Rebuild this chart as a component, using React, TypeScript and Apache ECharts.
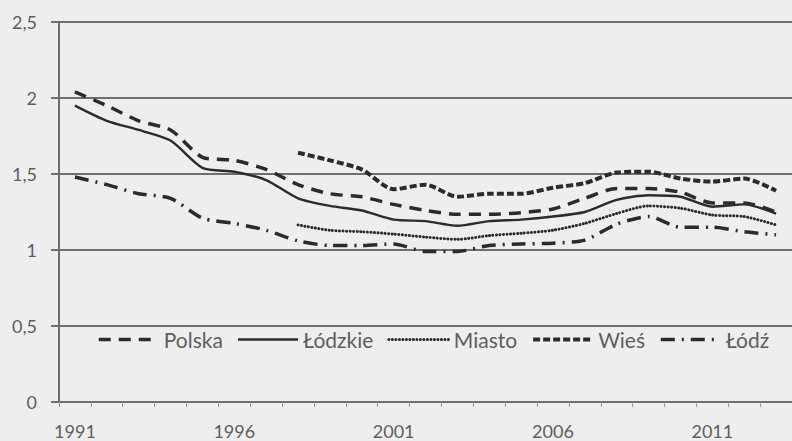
import React, { useEffect, useRef } from "react";
import * as echarts from "echarts";

const years = [
  "1991", "1992", "1993", "1994", "1995", "1996", "1997", "1998", "1999", "2000",
  "2001", "2002", "2003", "2004", "2005", "2006", "2007", "2008", "2009", "2010",
  "2011", "2012", "2013",
];

const polska = [2.04, 1.95, 1.85, 1.79, 1.61, 1.59, 1.53, 1.43, 1.37, 1.35, 1.3, 1.26, 1.235, 1.235, 1.245, 1.27, 1.34, 1.405, 1.405, 1.38, 1.31, 1.31, 1.25];
const lodzkie = [1.95, 1.85, 1.79, 1.72, 1.54, 1.515, 1.46, 1.34, 1.29, 1.26, 1.2, 1.19, 1.16, 1.19, 1.2, 1.22, 1.25, 1.33, 1.36, 1.35, 1.285, 1.3, 1.24];
const miasto = [null, null, null, null, null, null, null, 1.165, 1.13, 1.12, 1.105, 1.085, 1.07, 1.095, 1.11, 1.13, 1.175, 1.24, 1.29, 1.275, 1.23, 1.22, 1.165];
const wies = [null, null, null, null, null, null, null, 1.64, 1.59, 1.53, 1.4, 1.43, 1.35, 1.37, 1.37, 1.41, 1.44, 1.51, 1.515, 1.47, 1.45, 1.47, 1.39];
const lodz = [1.48, 1.43, 1.37, 1.34, 1.21, 1.175, 1.13, 1.06, 1.03, 1.03, 1.04, 0.99, 0.99, 1.03, 1.04, 1.045, 1.065, 1.17, 1.22, 1.15, 1.15, 1.12, 1.1];

const seriesNames = ["Polska", "Łódzkie", "Miasto", "Wieś", "Łódź"];
const lineWidths = [3.5, 2.4, 3, 4, 3.5];
const lineTypes: any[] = [[12, 8], "solid", [0.1, 3.4], [7, 3], [14, 7, 2, 7]];
const seriesData = [polska, lodzkie, miasto, wies, lodz];

const LINE = "#2b2b2b";
const GRID = "#6e6e6e";
const TEXT = "#5e5e5e";
const FONT = "Lato, 'Open Sans', sans-serif";

export default function App() {
  const ref = useRef<HTMLDivElement>(null);

  useEffect(() => {
    if (!ref.current) return;
    const chart = echarts.init(ref.current, null, { renderer: "svg" });
    chart.setOption({
      animation: false,
      backgroundColor: "#eeeeee",
      textStyle: { fontFamily: FONT },
      grid: { left: 59, right: -1, top: 22, bottom: 39, containLabel: false },
      legend: {
        data: seriesNames.map((name, i) => ({
          name,
          lineStyle: { width: lineWidths[i] },
        })),
        left: 92,
        top: 324,
        itemWidth: 60,
        itemHeight: 20,
        itemGap: 14,
        itemStyle: { opacity: 0 },
        textStyle: { color: TEXT, fontSize: 21, fontFamily: FONT },
      },
      xAxis: {
        type: "category",
        data: years,
        boundaryGap: true,
        axisLine: { show: true, lineStyle: { color: GRID, width: 2 } },
        axisTick: { show: true, interval: 0, length: 5, lineStyle: { color: "#999", width: 1 } },
        axisLabel: { interval: 4, color: TEXT, fontSize: 18, margin: 20, fontFamily: FONT },
        splitLine: { show: false },
      },
      yAxis: {
        type: "value",
        min: 0,
        max: 2.5,
        interval: 0.5,
        axisLine: { show: true, lineStyle: { color: GRID, width: 2 } },
        axisTick: { show: true, length: 8, lineStyle: { color: GRID, width: 2 } },
        axisLabel: {
          color: TEXT,
          fontSize: 18,
          margin: 22,
          fontFamily: FONT,
          formatter: (v: number) => String(v).replace(".", ","),
        },
        splitLine: { show: true, lineStyle: { color: GRID, width: 2 } },
      },
      series: seriesNames.map((name, i) => ({
        name,
        type: "line",
        data: seriesData[i],
        symbol: "none",
        showSymbol: false,
        smooth: 0.25,
        lineStyle: {
          color: LINE,
          width: lineWidths[i],
          type: lineTypes[i],
          cap: i === 2 ? "round" : "butt",
        },
        itemStyle: { color: LINE },
      })),
    });
    return () => chart.dispose();
  }, []);

  return (
    <div
      ref={ref}
      style={{ position: "fixed", left: 0, top: 0, width: 792, height: 441 }}
    />
  );
}
